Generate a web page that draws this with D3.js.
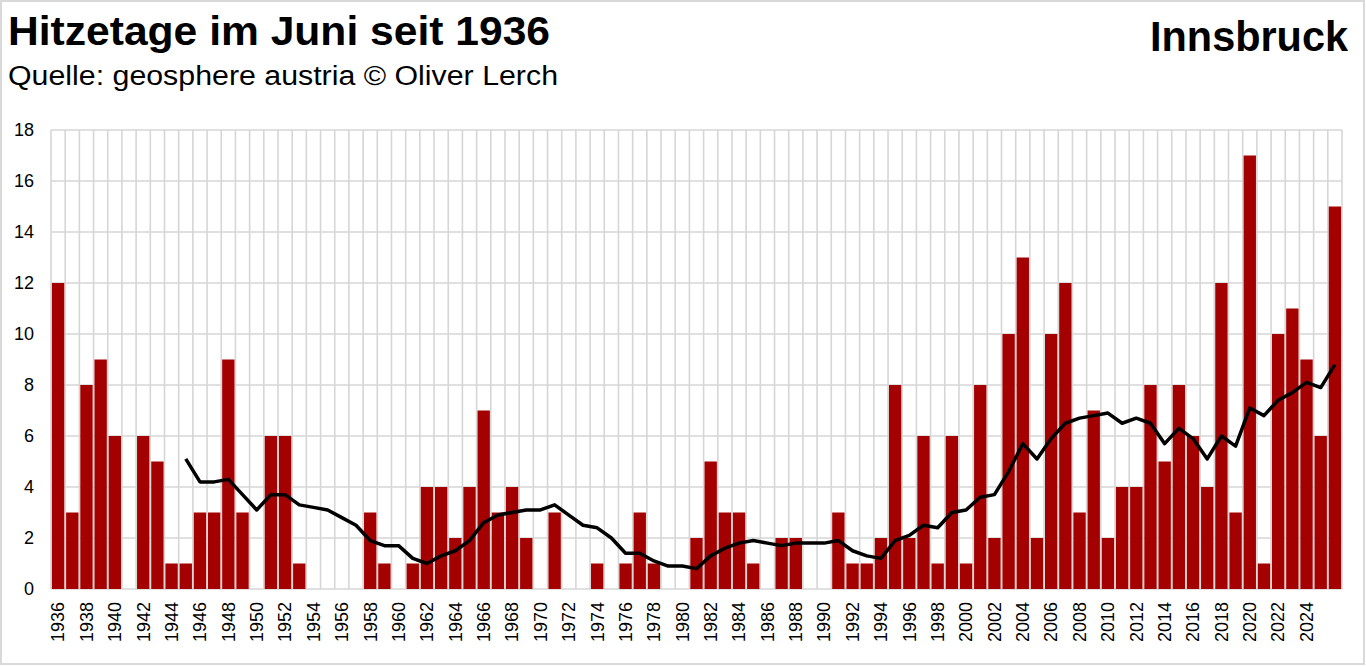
<!DOCTYPE html>
<html>
<head>
<meta charset="utf-8">
<script src="https://cdn.jsdelivr.net/npm/d3@7"></script>
<style>
  body { margin: 0; background: #fff; }
  svg { display: block; }
  text { font-family: "Liberation Sans", Arial, sans-serif; fill: #000; }
</style>
</head>
<body>
<svg id="chart" width="1366" height="666"></svg>
<script>
// Hitzetage (Tage >= 30 Grad) im Juni, Innsbruck
var years = d3.range(1936, 2027);
var hotDays = [
  12, 3, 8, 9, 6, 0, 6, 5, 1, 1,
  3, 3, 9, 3, 0, 6, 6, 1, 0, 0,
  0, 0, 3, 1, 0, 1, 4, 4, 2, 4,
  7, 3, 4, 2, 0, 3, 0, 0, 1, 0,
  1, 3, 1, 0, 0, 2, 5, 3, 3, 1,
  0, 2, 2, 0, 0, 3, 1, 1, 2, 8,
  2, 6, 1, 6, 1, 8, 2, 10, 13, 2,
  10, 12, 3, 7, 2, 4, 4, 8, 5, 8,
  6, 4, 12, 3, 17, 1, 10, 11, 9, 6,
  15
];
// 10-year average line, starts at the 10th bar
var avgStart = 1945;
var avgValues = [
  5.1, 4.2, 4.2, 4.3, 3.7, 3.1, 3.7, 3.7, 3.3, 3.2,
  3.1, 2.8, 2.5, 1.9, 1.7, 1.7, 1.2, 1.0, 1.3, 1.5,
  1.9, 2.6, 2.9, 3.0, 3.1, 3.1, 3.3, 2.9, 2.5, 2.4,
  2.0, 1.4, 1.4, 1.1, 0.9, 0.9, 0.8, 1.3, 1.6, 1.8,
  1.9, 1.8, 1.7, 1.8, 1.8, 1.8, 1.9, 1.5, 1.3, 1.2,
  1.9, 2.1, 2.5, 2.4, 3.0, 3.1, 3.6, 3.7, 4.6, 5.7,
  5.1, 5.9, 6.5, 6.7, 6.8, 6.9, 6.5, 6.7, 6.5, 5.7,
  6.3, 5.9, 5.1, 6.0, 5.6, 7.1, 6.8, 7.4, 7.7, 8.1,
  7.9, 8.8
];
var yTicks = [0, 2, 4, 6, 8, 10, 12, 14, 16, 18];
var xTickLabels = ["1936", "1938", "1940", "1942", "1944", "1946", "1948", "1950",
  "1952", "1954", "1956", "1958", "1960", "1962", "1964", "1966", "1968", "1970",
  "1972", "1974", "1976", "1978", "1980", "1982", "1984", "1986", "1988", "1990",
  "1992", "1994", "1996", "1998", "2000", "2002", "2004", "2006", "2008", "2010",
  "2012", "2014", "2016", "2018", "2020", "2022", "2024"];

var svg = d3.select("#chart");
var plotLeft = 51, plotRight = 1342, plotTop = 130, plotBottom = 589;

// frame round the whole picture
svg.append("rect")
  .attr("x", 1).attr("y", 1).attr("width", 1363).attr("height", 663)
  .attr("fill", "#fff").attr("stroke", "#d9d9d9").attr("stroke-width", 2);

var x = d3.scaleBand()
  .domain(years)
  .range([plotLeft, plotRight])
  .paddingInner(0.13)
  .paddingOuter(0.065);

var y = d3.scaleLinear().domain([0, 18]).range([plotBottom, plotTop]);

var step = x.step();
var gridX = years.map(function(yr) { return x(yr) - step * 0.065; });
gridX.push(plotRight);

var grid = svg.append("g").attr("stroke", "#d6d6d6").attr("stroke-width", 1.6);
grid.selectAll("line.h").data(yTicks).join("line")
  .attr("class", "h")
  .attr("x1", plotLeft).attr("x2", plotRight)
  .attr("y1", function(d) { return y(d); }).attr("y2", function(d) { return y(d); });
grid.selectAll("line.v").data(gridX).join("line")
  .attr("class", "v")
  .attr("x1", function(d) { return d; }).attr("x2", function(d) { return d; })
  .attr("y1", plotTop).attr("y2", plotBottom);

// bars
svg.append("g").selectAll("rect").data(years).join("rect")
  .attr("x", function(d) { return x(d); })
  .attr("width", x.bandwidth())
  .attr("y", function(d, i) { return y(hotDays[i]); })
  .attr("height", function(d, i) { return y(0) - y(hotDays[i]); })
  .attr("fill", "#a50000");

// moving average
var avgData = avgValues.map(function(v, i) { return { year: avgStart + i, v: v }; });
var line = d3.line()
  .x(function(d) { return x(d.year) + x.bandwidth() / 2; })
  .y(function(d) { return y(d.v); });
svg.append("path").datum(avgData)
  .attr("d", line)
  .attr("fill", "none")
  .attr("stroke", "#000")
  .attr("stroke-width", 3.5)
  .attr("stroke-linejoin", "round");

// y axis labels
var yAxis = d3.axisLeft(y).tickValues(yTicks).tickSize(0).tickPadding(0);
svg.append("g")
  .attr("transform", "translate(34,0)")
  .call(yAxis)
  .call(function(g) { g.select(".domain").remove(); })
  .selectAll("text")
  .attr("font-size", 18)
  .attr("font-family", "Liberation Sans, Arial, sans-serif")
  .attr("fill", "#000");

// x axis labels, every second year
var xAxis = d3.axisBottom(x)
  .tickValues(xTickLabels.map(Number))
  .tickSize(0)
  .tickPadding(0);
svg.append("g")
  .attr("transform", "translate(0," + plotBottom + ")")
  .call(xAxis)
  .call(function(g) { g.select(".domain").remove(); })
  .selectAll("text")
  .attr("font-size", 18)
  .attr("font-family", "Liberation Sans, Arial, sans-serif")
  .attr("fill", "#000")
  .attr("transform", "rotate(-90)")
  .attr("text-anchor", "end")
  .attr("x", -13)
  .attr("y", 0)
  .attr("dy", "0.35em");

// titles
svg.append("text")
  .attr("x", 8).attr("y", 45)
  .attr("font-size", 41).attr("font-weight", "bold")
  .attr("textLength", 542).attr("lengthAdjust", "spacingAndGlyphs")
  .text("Hitzetage im Juni seit 1936");
svg.append("text")
  .attr("x", 8).attr("y", 85)
  .attr("font-size", 27)
  .attr("textLength", 550).attr("lengthAdjust", "spacingAndGlyphs")
  .text("Quelle: geosphere austria © Oliver Lerch");
svg.append("text")
  .attr("x", 1348).attr("y", 51)
  .attr("font-size", 43).attr("font-weight", "bold")
  .attr("text-anchor", "end")
  .attr("textLength", 198).attr("lengthAdjust", "spacingAndGlyphs")
  .text("Innsbruck");
</script>
</body>
</html>
